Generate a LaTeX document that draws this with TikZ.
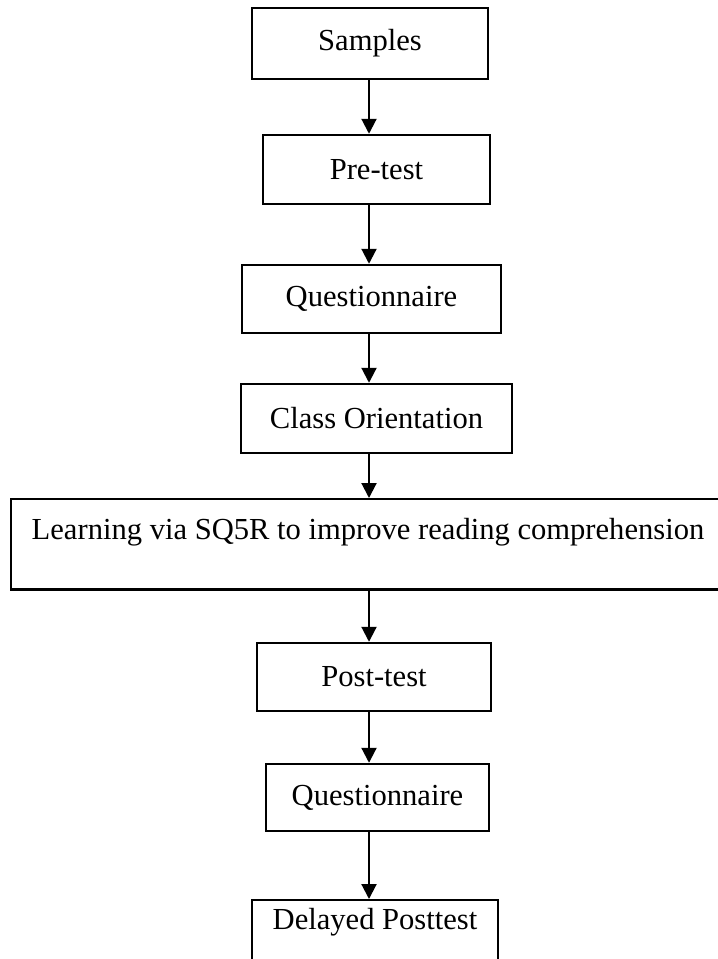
\documentclass[tikz,border=0pt]{standalone}
\usepackage{fontspec}
\setmainfont{Liberation Serif}
\usepackage{tikz}
\usetikzlibrary{arrows.meta,calc}
\definecolor{ink}{HTML}{000000}

\begin{document}
\begin{tikzpicture}[
  font=\fontsize{17.4}{21}\selectfont,
  stage/.style={draw=ink, line width=1.4pt, fill=white, align=center, inner sep=0pt},
  arrow/.style={-{Triangle[length=3mm, width=3mm]}, line width=1.2pt, draw=ink}
]
\useasboundingbox (0,0) rectangle (14.36,-19.18);
\clip (0,0) rectangle (14.36,-19.18);

% ------------------------------------------------------------------
% Stages, top to bottom
% ------------------------------------------------------------------
\coordinate (spine) at (7.38,0);

\node[stage, minimum width=4.72cm, minimum height=1.42cm] (samples) at (7.40,-0.87) {Samples};
\node[stage, minimum width=4.54cm, minimum height=1.38cm] (pretest) at (7.53,-3.39) {Pre-test};
\node[stage, minimum width=5.18cm, minimum height=1.36cm] (quest) at (7.43,-5.98) {Questionnaire};
\node[stage, minimum width=5.42cm, minimum height=1.38cm] (orient) at (7.53,-8.37) {Class Orientation};
\node[stage, minimum width=14.28cm, anchor=north, inner ysep=0.38cm, text depth=0.62cm] (learn) at (7.36,-9.96)
{Learning via SQ5R to improve reading comprehension};
\node[stage, minimum width=4.68cm, minimum height=1.36cm] (posttest) at (7.48,-13.54) {Post-test};
\node[stage, minimum width=4.46cm, minimum height=1.34cm] (questpost) at (7.55,-15.95) {Questionnaire};
\node[stage, minimum width=4.92cm, anchor=north, inner ysep=0.16cm, text depth=0.72cm] (delayed) at (7.50,-17.98)
{Delayed Posttest};

% ------------------------------------------------------------------
% Flow
% ------------------------------------------------------------------
\foreach \a/\b in {samples/pretest, pretest/quest, quest/orient, orient/learn,
                   learn/posttest, posttest/questpost, questpost/delayed} {
  \draw[arrow] (\a.south -| spine) -- (\b.north -| spine);
}

\end{tikzpicture}
\end{document}
